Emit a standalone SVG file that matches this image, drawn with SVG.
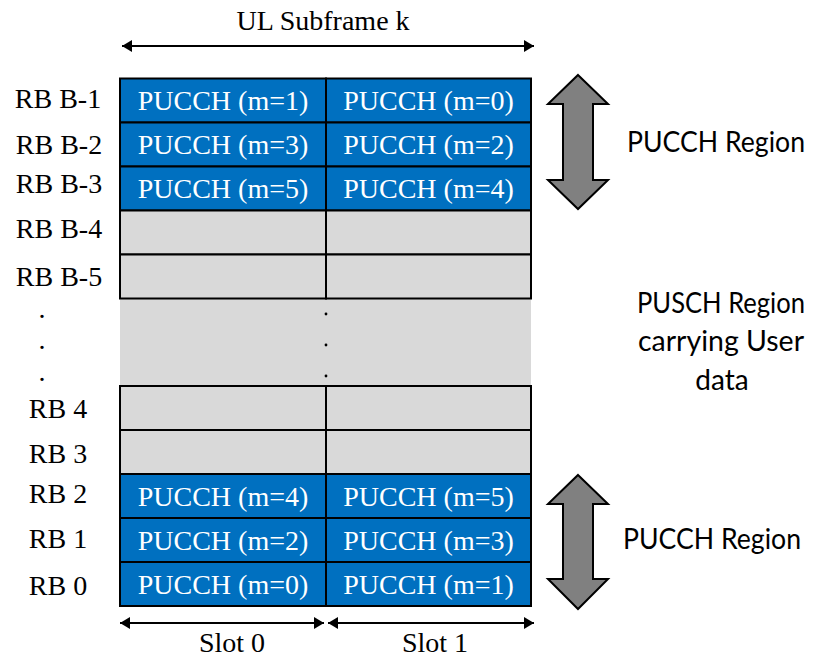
<svg xmlns="http://www.w3.org/2000/svg" width="818" height="657" viewBox="0 0 818 657">
  <style>
    .serif { font-family: "Liberation Serif", "Times New Roman", serif; font-size: 28px; }
    .sans { font-family: Lato, "Liberation Sans", Arial, sans-serif; font-size: 28px; fill: #000; }
    .lbl { text-anchor: middle; fill: #000; }
    .pucch rect { fill: #0070C0; stroke: #000; stroke-width: 2; }
    .pucch text { fill: #fff; text-anchor: middle; }
    .pusch rect { fill: #D9D9D9; stroke: #000; stroke-width: 2; }
    .conn line { stroke: #000; stroke-width: 2; }
    .big { fill: #808080; stroke: #000; stroke-width: 2; stroke-linejoin: miter; }
  </style>
  <defs>
    <marker id="ah" viewBox="0 0 10 12" refX="10" refY="6" markerWidth="10" markerHeight="12" markerUnits="userSpaceOnUse" orient="auto-start-reverse">
      <path d="M0,0 L10,6 L0,12 Z" fill="#000"/>
    </marker>
  </defs>

  <rect width="818" height="657" fill="#fff"/>

  <!-- Middle PUSCH filler (no cell borders) -->
  <g id="pusch-gap">
    <rect x="120" y="298" width="411" height="88" fill="#D9D9D9"/>
    <line x1="120" y1="386.5" x2="531" y2="386.5" stroke="#999" stroke-width="1"/>
    <circle cx="326" cy="314" r="1.4" fill="#000"/>
    <circle cx="326" cy="345" r="1.4" fill="#000"/>
    <circle cx="326" cy="376" r="1.4" fill="#000"/>
  </g>

  <!-- Top PUCCH rows -->
  <g id="rb-b1" class="pucch">
    <rect x="120" y="78.5" width="206" height="44"/><rect x="326" y="78.5" width="205" height="44"/>
    <text class="serif" x="223" y="110">PUCCH (m=1)</text><text class="serif" x="428.5" y="110">PUCCH (m=0)</text>
  </g>
  <g id="rb-b2" class="pucch">
    <rect x="120" y="122.5" width="206" height="44"/><rect x="326" y="122.5" width="205" height="44"/>
    <text class="serif" x="223" y="154">PUCCH (m=3)</text><text class="serif" x="428.5" y="154">PUCCH (m=2)</text>
  </g>
  <g id="rb-b3" class="pucch">
    <rect x="120" y="166.5" width="206" height="44"/><rect x="326" y="166.5" width="205" height="44"/>
    <text class="serif" x="223" y="198">PUCCH (m=5)</text><text class="serif" x="428.5" y="198">PUCCH (m=4)</text>
  </g>

  <!-- PUSCH rows -->
  <g id="rb-b4" class="pusch">
    <rect x="120" y="210.5" width="206" height="44"/><rect x="326" y="210.5" width="205" height="44"/>
  </g>
  <g id="rb-b5" class="pusch">
    <rect x="120" y="254.5" width="206" height="44"/><rect x="326" y="254.5" width="205" height="44"/>
  </g>
  <g id="rb-4" class="pusch">
    <rect x="120" y="386" width="206" height="44"/><rect x="326" y="386" width="205" height="44"/>
  </g>
  <g id="rb-3" class="pusch">
    <rect x="120" y="430" width="206" height="44"/><rect x="326" y="430" width="205" height="44"/>
  </g>

  <!-- Bottom PUCCH rows -->
  <g id="rb-2" class="pucch">
    <rect x="120" y="474" width="206" height="44"/><rect x="326" y="474" width="205" height="44"/>
    <text class="serif" x="223" y="506">PUCCH (m=4)</text><text class="serif" x="428.5" y="506">PUCCH (m=5)</text>
  </g>
  <g id="rb-1" class="pucch">
    <rect x="120" y="518" width="206" height="44"/><rect x="326" y="518" width="205" height="44"/>
    <text class="serif" x="223" y="550">PUCCH (m=2)</text><text class="serif" x="428.5" y="550">PUCCH (m=3)</text>
  </g>
  <g id="rb-0" class="pucch">
    <rect x="120" y="562" width="206" height="44"/><rect x="326" y="562" width="205" height="44"/>
    <text class="serif" x="223" y="594">PUCCH (m=0)</text><text class="serif" x="428.5" y="594">PUCCH (m=1)</text>
  </g>

  <!-- Row labels -->
  <g id="row-labels" class="serif lbl">
    <text x="58" y="108">RB B-1</text>
    <text x="59" y="154">RB B-2</text>
    <text x="59" y="193">RB B-3</text>
    <text x="59" y="238">RB B-4</text>
    <text x="59" y="286">RB B-5</text>
    <text x="42" y="318">.</text>
    <text x="42" y="349">.</text>
    <text x="42" y="381">.</text>
    <text x="58" y="418">RB 4</text>
    <text x="58" y="463">RB 3</text>
    <text x="58" y="503">RB 2</text>
    <text x="58" y="548">RB 1</text>
    <text x="58" y="595">RB 0</text>
  </g>

  <!-- Dimension connectors -->
  <g id="connectors" class="conn">
    <line x1="122" y1="46" x2="534" y2="46" marker-start="url(#ah)" marker-end="url(#ah)"/>
    <line x1="120" y1="623" x2="324" y2="623" marker-start="url(#ah)" marker-end="url(#ah)"/>
    <line x1="328" y1="623" x2="534" y2="623" marker-start="url(#ah)" marker-end="url(#ah)"/>
  </g>
  <g id="dim-labels" class="serif lbl">
    <text x="323" y="30">UL Subframe k</text>
    <text x="232" y="652">Slot 0</text>
    <text x="435" y="652">Slot 1</text>
  </g>

  <!-- Region brackets -->
  <g id="pucch-top-region">
    <path class="big" d="M578,75 L608,104 L593,104 L593,180 L608,180 L578,209 L548,180 L563,180 L563,104 L548,104 Z"/>
    <text class="sans" x="627" y="152" textLength="178" lengthAdjust="spacingAndGlyphs">PUCCH Region</text>
  </g>
  <g id="pusch-region">
    <text class="sans" x="721" y="313" text-anchor="middle" textLength="168" lengthAdjust="spacingAndGlyphs">PUSCH Region</text>
    <text class="sans" x="721" y="351" text-anchor="middle" textLength="166" lengthAdjust="spacingAndGlyphs">carrying User</text>
    <text class="sans" x="722" y="390" text-anchor="middle">data</text>
  </g>
  <g id="pucch-bottom-region">
    <path class="big" d="M578,475 L608,504 L593,504 L593,579 L608,579 L578,609 L548,579 L563,579 L563,504 L548,504 Z"/>
    <text class="sans" x="623" y="549" textLength="178" lengthAdjust="spacingAndGlyphs">PUCCH Region</text>
  </g>
</svg>
